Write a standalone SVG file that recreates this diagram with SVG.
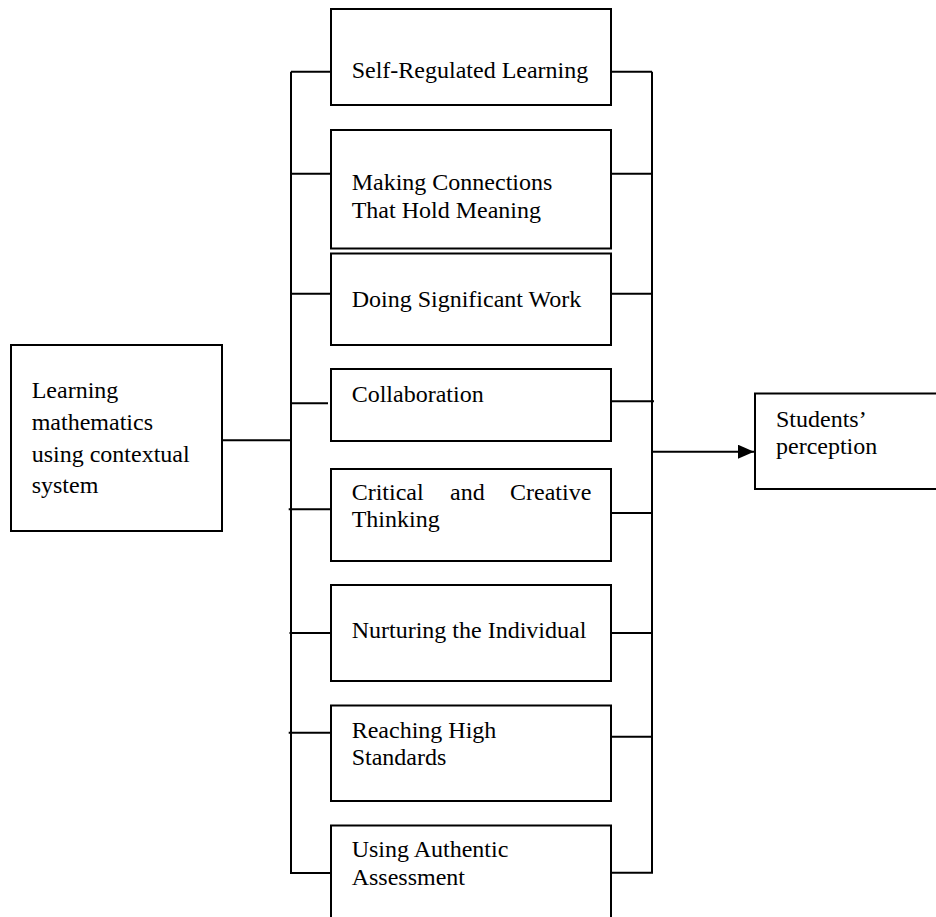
<svg xmlns="http://www.w3.org/2000/svg" width="936" height="917" viewBox="0 0 936 917">
<defs>
<style>
.box{fill:#fff;stroke:#000;stroke-width:2}
.ln{stroke:#000;stroke-width:2;fill:none}
text{font-family:"Liberation Serif","Times New Roman",serif;font-size:24px;fill:#000}
</style>
<marker id="arr" viewBox="0 0 16 14" refX="16" refY="7" markerWidth="16" markerHeight="14" markerUnits="userSpaceOnUse" orient="auto">
<path d="M0,0 L16,7 L0,14 Z" fill="#000"/>
</marker>
</defs>
<rect width="936" height="917" fill="#fff"/>
<g id="connectors">
<line class="ln" x1="291" y1="71.7" x2="291" y2="873"/>
<line class="ln" x1="652" y1="71.7" x2="652" y2="873"/>
<line class="ln" x1="291" y1="71.7" x2="331" y2="71.7"/>
<line class="ln" x1="291" y1="173.7" x2="331" y2="173.7"/>
<line class="ln" x1="291" y1="293.7" x2="331" y2="293.7"/>
<line class="ln" x1="290" y1="403.3" x2="328" y2="403.3"/>
<line class="ln" x1="288.7" y1="509.3" x2="331" y2="509.3"/>
<line class="ln" x1="289.5" y1="633" x2="331" y2="633"/>
<line class="ln" x1="288.7" y1="732.7" x2="331" y2="732.7"/>
<line class="ln" x1="290" y1="873" x2="331" y2="873"/>
<line class="ln" x1="611" y1="71.7" x2="652" y2="71.7"/>
<line class="ln" x1="611" y1="173.7" x2="652" y2="173.7"/>
<line class="ln" x1="611" y1="293.7" x2="652" y2="293.7"/>
<line class="ln" x1="611" y1="401.3" x2="654" y2="401.3"/>
<line class="ln" x1="611" y1="513" x2="652" y2="513"/>
<line class="ln" x1="611" y1="633" x2="652" y2="633"/>
<line class="ln" x1="611" y1="736.7" x2="652" y2="736.7"/>
<line class="ln" x1="611" y1="872.7" x2="653" y2="872.7"/>
<line class="ln" x1="222" y1="440.3" x2="291" y2="440.3"/>
<line class="ln" x1="652" y1="451.7" x2="754" y2="451.7" marker-end="url(#arr)"/>
</g>
<g id="input">
<rect class="box" x="11" y="345" width="211" height="186"/>
<text x="31.7" y="398.3">Learning</text>
<text x="31.7" y="430">mathematics</text>
<text x="31.7" y="461.7">using contextual</text>
<text x="31.7" y="493.3">system</text>
</g>
<g id="output">
<rect class="box" x="755" y="393.5" width="200" height="95.5"/>
<text x="776" y="426.7">Students’</text>
<text x="776" y="454">perception</text>
</g>
<g id="n1">
<rect class="box" x="331" y="9" width="280" height="96"/>
<text x="351.7" y="78">Self-Regulated Learning</text>
</g>
<g id="n2">
<rect class="box" x="331" y="130" width="280" height="118.5"/>
<text x="351.7" y="190">Making Connections</text>
<text x="351.7" y="218">That Hold Meaning</text>
</g>
<g id="n3">
<rect class="box" x="331" y="253.5" width="280" height="91.5"/>
<text x="351.7" y="307.3">Doing Significant Work</text>
</g>
<g id="n4">
<rect class="box" x="331" y="369" width="280" height="72"/>
<text x="351.7" y="401.7">Collaboration</text>
</g>
<g id="n5">
<rect class="box" x="331" y="469" width="280" height="92"/>
<text x="351.7" y="500">Critical</text>
<text x="450" y="500">and</text>
<text x="510" y="500">Creative</text>
<text x="351.7" y="527.3">Thinking</text>
</g>
<g id="n6">
<rect class="box" x="331" y="585" width="280" height="96"/>
<text x="351.7" y="637.7">Nurturing the Individual</text>
</g>
<g id="n7">
<rect class="box" x="331" y="705.5" width="280" height="95.5"/>
<text x="351.7" y="737.7">Reaching High</text>
<text x="351.7" y="765">Standards</text>
</g>
<g id="n8">
<rect class="box" x="331" y="825.5" width="280" height="110"/>
<text x="351.7" y="856.7">Using Authentic</text>
<text x="351.7" y="885">Assessment</text>
</g>
</svg>
